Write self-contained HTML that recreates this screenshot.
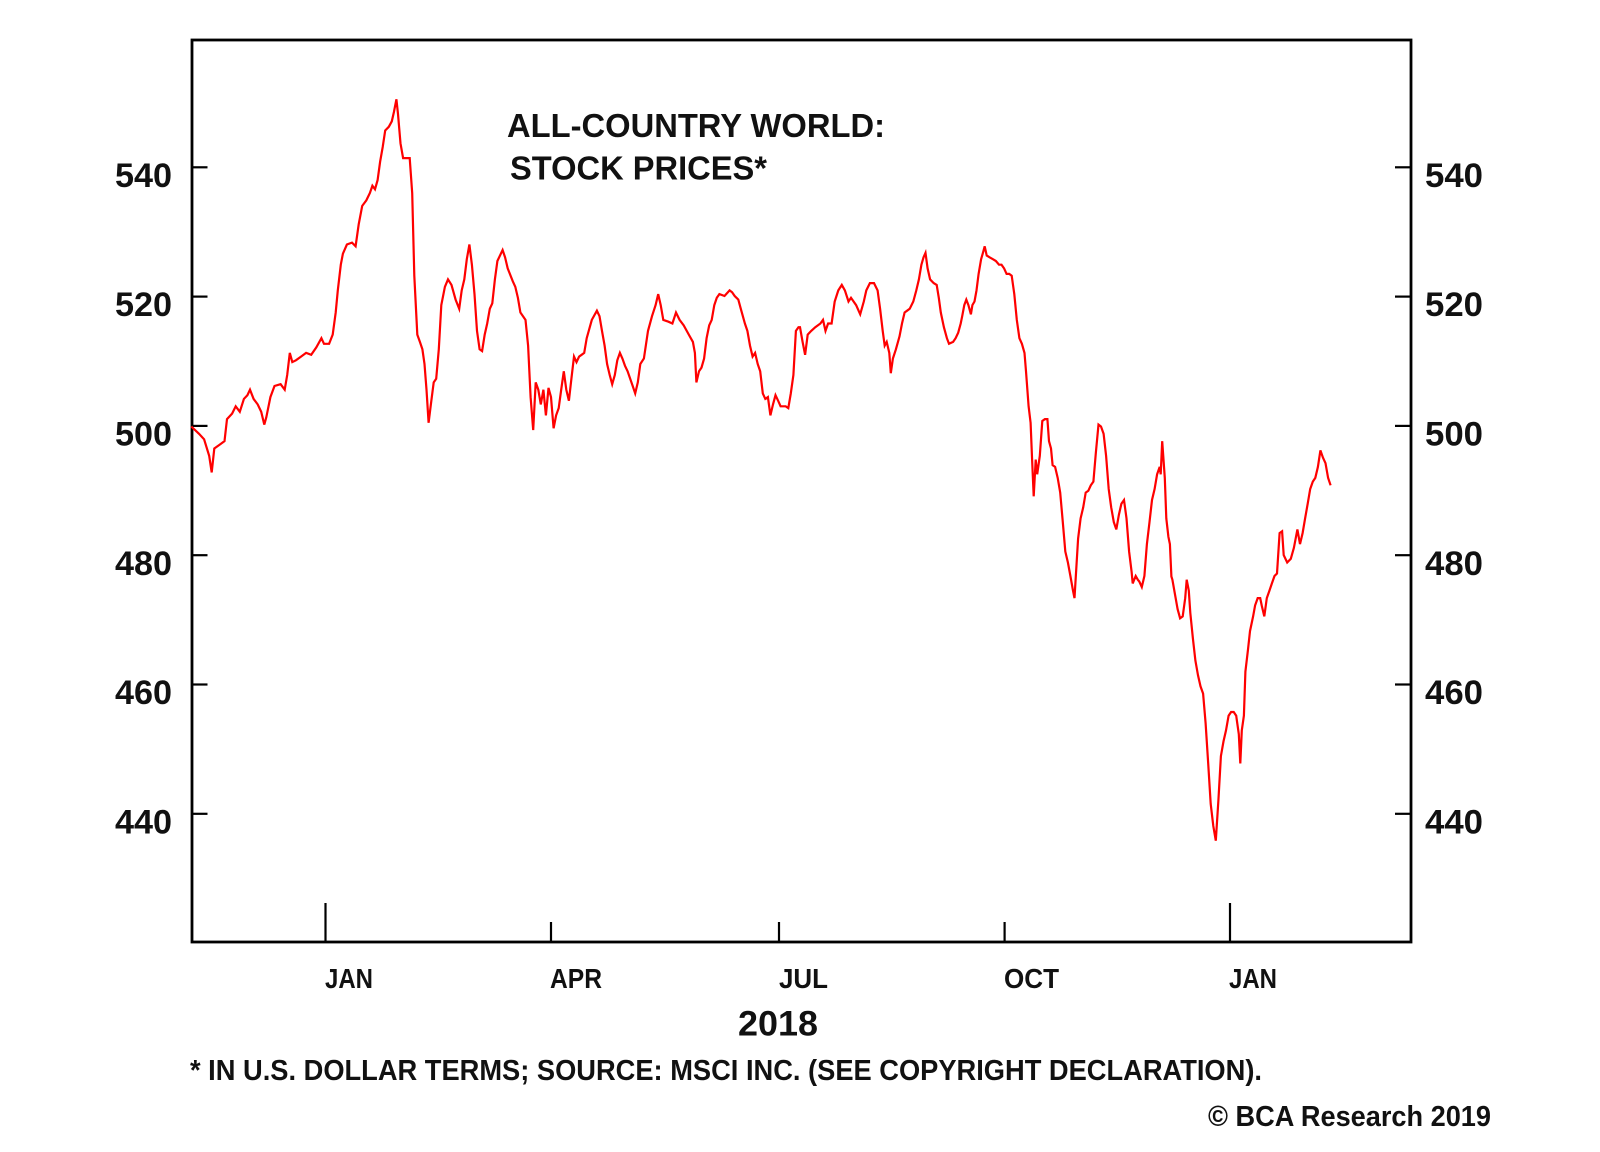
<!DOCTYPE html>
<html><head><meta charset="utf-8"><style>
html,body{margin:0;padding:0;background:#fff;}
svg{display:block;}
text{font-family:"Liberation Sans",Arial,sans-serif;font-weight:bold;fill:#111;}
</style></head><body>
<svg width="1600" height="1152" viewBox="0 0 1600 1152" xmlns="http://www.w3.org/2000/svg">
<rect x="0" y="0" width="1600" height="1152" fill="#fff"/>
<!-- frame -->
<rect x="192" y="40" width="1219" height="902" fill="none" stroke="#000" stroke-width="2.8"/>
<!-- y ticks -->
<g stroke="#000" stroke-width="2.2">
<line x1="192" y1="167.3" x2="207.5" y2="167.3"/>
<line x1="192" y1="296.6" x2="207.5" y2="296.6"/>
<line x1="192" y1="425.9" x2="207.5" y2="425.9"/>
<line x1="192" y1="555.2" x2="207.5" y2="555.2"/>
<line x1="192" y1="684.5" x2="207.5" y2="684.5"/>
<line x1="192" y1="813.8" x2="207.5" y2="813.8"/>
<line x1="1395" y1="167.3" x2="1411" y2="167.3"/>
<line x1="1395" y1="296.6" x2="1411" y2="296.6"/>
<line x1="1395" y1="425.9" x2="1411" y2="425.9"/>
<line x1="1395" y1="555.2" x2="1411" y2="555.2"/>
<line x1="1395" y1="684.5" x2="1411" y2="684.5"/>
<line x1="1395" y1="813.8" x2="1411" y2="813.8"/>
<!-- x ticks -->
<line x1="325.5" y1="903" x2="325.5" y2="942"/>
<line x1="551" y1="922" x2="551" y2="942"/>
<line x1="779" y1="922" x2="779" y2="942"/>
<line x1="1004.6" y1="922" x2="1004.6" y2="942"/>
<line x1="1230" y1="903" x2="1230" y2="942"/>
</g>
<!-- y labels -->
<g font-size="34">
<text x="115" y="187" textLength="57" lengthAdjust="spacingAndGlyphs">540</text>
<text x="115" y="316" textLength="57" lengthAdjust="spacingAndGlyphs">520</text>
<text x="115" y="445.5" textLength="57" lengthAdjust="spacingAndGlyphs">500</text>
<text x="115" y="575" textLength="57" lengthAdjust="spacingAndGlyphs">480</text>
<text x="115" y="704" textLength="57" lengthAdjust="spacingAndGlyphs">460</text>
<text x="115" y="833.5" textLength="57" lengthAdjust="spacingAndGlyphs">440</text>
<text x="1425" y="187" textLength="58" lengthAdjust="spacingAndGlyphs">540</text>
<text x="1425" y="316" textLength="58" lengthAdjust="spacingAndGlyphs">520</text>
<text x="1425" y="445.5" textLength="58" lengthAdjust="spacingAndGlyphs">500</text>
<text x="1425" y="575" textLength="58" lengthAdjust="spacingAndGlyphs">480</text>
<text x="1425" y="704" textLength="58" lengthAdjust="spacingAndGlyphs">460</text>
<text x="1425" y="833.5" textLength="58" lengthAdjust="spacingAndGlyphs">440</text>
</g>
<!-- x labels -->
<g font-size="28">
<text x="325" y="988" textLength="48" lengthAdjust="spacingAndGlyphs">JAN</text>
<text x="550" y="988" textLength="52" lengthAdjust="spacingAndGlyphs">APR</text>
<text x="779" y="988" textLength="49" lengthAdjust="spacingAndGlyphs">JUL</text>
<text x="1004" y="988" textLength="55" lengthAdjust="spacingAndGlyphs">OCT</text>
<text x="1229" y="988" textLength="48" lengthAdjust="spacingAndGlyphs">JAN</text>
</g>
<text x="738" y="1035.5" font-size="35" textLength="80" lengthAdjust="spacingAndGlyphs">2018</text>
<!-- title -->
<text x="507" y="137" font-size="33" textLength="378" lengthAdjust="spacingAndGlyphs">ALL-COUNTRY WORLD:</text>
<text x="510" y="179.5" font-size="33" textLength="257" lengthAdjust="spacingAndGlyphs">STOCK PRICES*</text>
<!-- footnotes -->
<text x="190" y="1080" font-size="29" textLength="1072" lengthAdjust="spacingAndGlyphs">* IN U.S. DOLLAR TERMS; SOURCE: MSCI INC. (SEE COPYRIGHT DECLARATION).</text>
<text x="1208" y="1126" font-size="29" textLength="283" lengthAdjust="spacingAndGlyphs">© BCA Research 2019</text>
<!-- series -->
<polyline fill="none" stroke="#ff0000" stroke-width="2.2" stroke-linejoin="miter" points="
191.3,426.5 199.0,433.8 204.1,439.3 209.2,455.9 211.7,472.4 214.3,448.5 219.4,444.9 224.5,441.2 227.0,419.1 232.1,413.6 235.7,406.3 239.8,411.8 243.9,398.9 247.4,395.2 250.0,389.7 253.6,398.9 257.7,404.4 261.2,411.8 264.3,424.6 266.3,417.3 270.4,397.1 274.5,386.0 280.6,384.2 284.7,389.7 287.2,375.0 289.8,352.9 292.3,362.1 295.9,360.3 301.0,356.6 306.1,352.9 311.2,354.8 316.3,347.4 321.4,338.2 324.0,343.8 329.1,343.8 332.7,334.6 335.7,312.5 337.8,290.4 340.8,264.7 342.9,253.7 346.9,244.5 352.0,242.6 355.6,246.3 358.7,224.3 362.2,205.9 366.3,200.4 369.9,193.0 372.4,185.7 375.0,189.3 377.6,180.1 380.1,161.8 382.7,147.1 385.2,130.5 388.8,126.8 391.8,121.3 393.9,112.1 396.4,99.3 398.0,114.0 400.5,143.4 403.1,158.1 406.6,158.1 409.7,158.1 412.2,193.0 414.3,275.7 417.3,334.6 419.9,341.9 422.4,349.3 424.5,364.0 426.5,389.7 428.6,422.8 431.1,402.6 433.7,382.4 436.2,378.7 438.8,349.3 441.3,305.1 444.9,286.8 448.0,279.4 451.5,284.9 455.6,299.6 459.2,308.8 461.7,290.4 464.3,279.4 466.8,259.2 469.4,244.5 471.9,264.7 474.5,294.1 477.0,330.9 479.6,349.3 482.1,351.1 484.7,334.6 487.2,323.5 489.8,308.8 492.3,303.3 494.9,279.4 497.4,261.0 502.6,250.0 505.1,257.4 507.7,268.4 512.8,281.3 515.3,286.8 517.9,297.8 520.4,312.5 523.0,316.2 525.5,319.9 528.1,345.6 530.6,397.1 533.2,430.1 535.7,382.4 538.3,389.7 540.8,404.4 543.4,389.7 545.9,415.4 548.5,387.9 551.0,397.1 553.6,428.3 556.1,415.4 558.7,408.1 561.2,389.7 563.8,371.3 566.3,389.7 568.9,400.7 571.4,378.7 574.0,356.6 576.5,362.1 579.1,356.6 581.6,354.8 584.2,352.9 586.7,338.2 591.8,319.9 596.9,310.7 599.5,316.2 602.0,330.9 604.6,345.6 607.1,364.0 609.7,375.0 612.2,384.2 614.8,375.0 617.3,360.3 619.9,352.9 622.4,358.5 625.0,365.8 627.6,371.3 632.7,386.0 635.2,393.4 637.8,382.4 640.3,364.0 643.9,358.5 648.0,330.9 652.0,316.2 655.6,305.1 658.2,294.1 660.7,305.1 663.3,319.9 668.4,321.7 672.4,323.5 676.0,312.5 679.6,319.9 683.7,325.4 688.8,334.6 692.9,341.9 694.9,352.9 696.4,382.4 699.0,371.3 701.5,367.6 704.1,358.5 706.6,338.2 709.2,325.4 711.7,319.9 714.3,305.1 716.8,297.8 719.4,294.1 724.5,296.0 729.6,290.4 732.1,292.3 734.7,296.0 738.3,299.6 740.8,308.8 744.9,323.5 747.4,330.9 750.0,345.6 752.6,356.6 755.1,352.9 757.7,364.0 760.2,371.3 762.8,393.4 765.3,398.9 767.9,397.1 770.4,415.4 773.0,404.4 775.5,395.2 778.1,400.7 780.6,406.3 785.7,406.3 788.3,408.1 790.8,393.4 793.4,375.0 795.9,330.9 798.5,327.2 800.0,327.2 802.6,341.9 805.1,354.8 807.7,334.6 811.2,330.9 815.3,327.2 820.4,323.5 823.0,319.9 825.5,330.9 828.1,323.5 831.6,323.5 834.7,301.5 838.3,290.4 841.8,284.9 844.9,290.4 848.5,301.5 851.0,297.8 856.1,305.1 860.2,314.3 863.8,301.5 866.3,290.4 869.9,283.1 874.0,283.1 877.6,290.4 880.1,308.8 882.7,330.9 884.7,345.6 886.7,341.9 889.3,352.9 890.8,373.2 892.9,358.5 895.9,349.3 899.5,336.4 902.0,323.5 904.6,312.5 907.1,310.7 909.7,308.8 913.3,301.5 916.3,290.4 918.9,279.4 921.4,264.7 923.5,257.4 925.5,252.9 927.6,268.4 930.1,279.4 933.7,283.1 936.7,284.9 938.8,297.8 940.8,312.5 943.9,327.2 946.9,338.2 949.0,343.8 953.1,341.9 955.6,338.2 958.2,332.7 960.7,323.5 962.2,316.2 964.3,305.1 966.3,299.6 968.4,305.1 970.9,314.3 972.4,305.1 974.5,301.5 976.5,290.4 978.6,273.9 981.1,259.2 982.7,253.7 984.7,246.3 986.7,255.5 989.8,257.4 992.9,259.2 995.9,261.0 999.0,264.7 1001.5,264.7 1004.1,268.4 1006.6,273.9 1009.2,273.9 1011.7,275.7 1014.3,294.1 1016.8,319.9 1019.4,338.2 1021.9,343.8 1024.5,352.9 1026.0,371.3 1028.6,406.3 1030.6,422.8 1032.1,459.6 1033.7,496.3 1035.7,459.6 1037.2,474.3 1039.8,455.9 1042.3,421.0 1044.9,419.1 1047.4,419.1 1049.0,441.2 1051.0,448.5 1052.6,465.1 1055.1,466.9 1057.7,478.0 1060.2,492.6 1062.8,522.1 1065.3,551.5 1067.9,562.5 1070.4,576 1073.0,590.7 1074.5,598.1 1078.1,538.6 1080.6,518.4 1083.2,507.4 1085.7,492.6 1088.3,490.8 1090.8,485.3 1093.4,481.6 1095.9,452.2 1098.5,424.6 1101.0,426.5 1103.6,433.8 1106.1,455.9 1108.7,489.0 1111.2,507.4 1113.8,522.1 1116.3,529.4 1118.9,514.7 1121.4,503.7 1124.0,500.0 1126.5,518.4 1129.1,551.5 1131.6,571.7 1132.7,583.4 1135.7,576 1137.8,579.7 1139.3,581.5 1141.8,587.0 1144.4,576 1146.9,544.1 1149.5,522.1 1152.0,500.0 1154.6,489.0 1157.1,474.3 1159.7,466.9 1160.7,474.3 1162.2,441.2 1164.8,477.9 1166.3,518.4 1168.4,536.8 1169.9,544.1 1171.4,576.5 1172.4,579.7 1175.0,594.4 1177.6,609.1 1180.1,618.3 1182.7,616.4 1185.2,598.1 1186.7,579.7 1188.8,590.7 1190.3,612.8 1192.9,638.5 1195.4,660.6 1198.0,675.3 1200.5,686.3 1203.1,693.6 1205.6,723.1 1208.2,763.5 1210.7,803.9 1213.3,826.0 1215.8,840.7 1218.4,800.3 1220.9,756.1 1223.5,741.4 1226.0,730.4 1228.6,715.7 1231.1,712.0 1233.7,712.0 1236.2,715.7 1238.8,734.1 1240.3,763.5 1241.8,730.4 1243.9,715.7 1245.4,671.6 1248.0,649.5 1250.0,631.1 1253.1,616.4 1255.1,605.4 1257.7,598.1 1260.2,598.1 1261.7,605.4 1264.3,616.4 1266.8,598.1 1269.4,590.7 1271.9,583.4 1274.5,576 1277.0,573.5 1279.6,533.1 1282.1,531.3 1283.7,555.1 1287.2,562.5 1290.8,558.8 1293.9,547.8 1297.4,529.4 1300.0,544.1 1302.6,533.1 1305.1,518.4 1307.7,503.7 1310.2,489.0 1312.8,481.6 1315.3,477.9 1317.9,466.9 1320.4,450.4 1323.0,457.7 1325.5,463.2 1328.1,477.9 1330.6,485.3"/>
</svg>
</body></html>
